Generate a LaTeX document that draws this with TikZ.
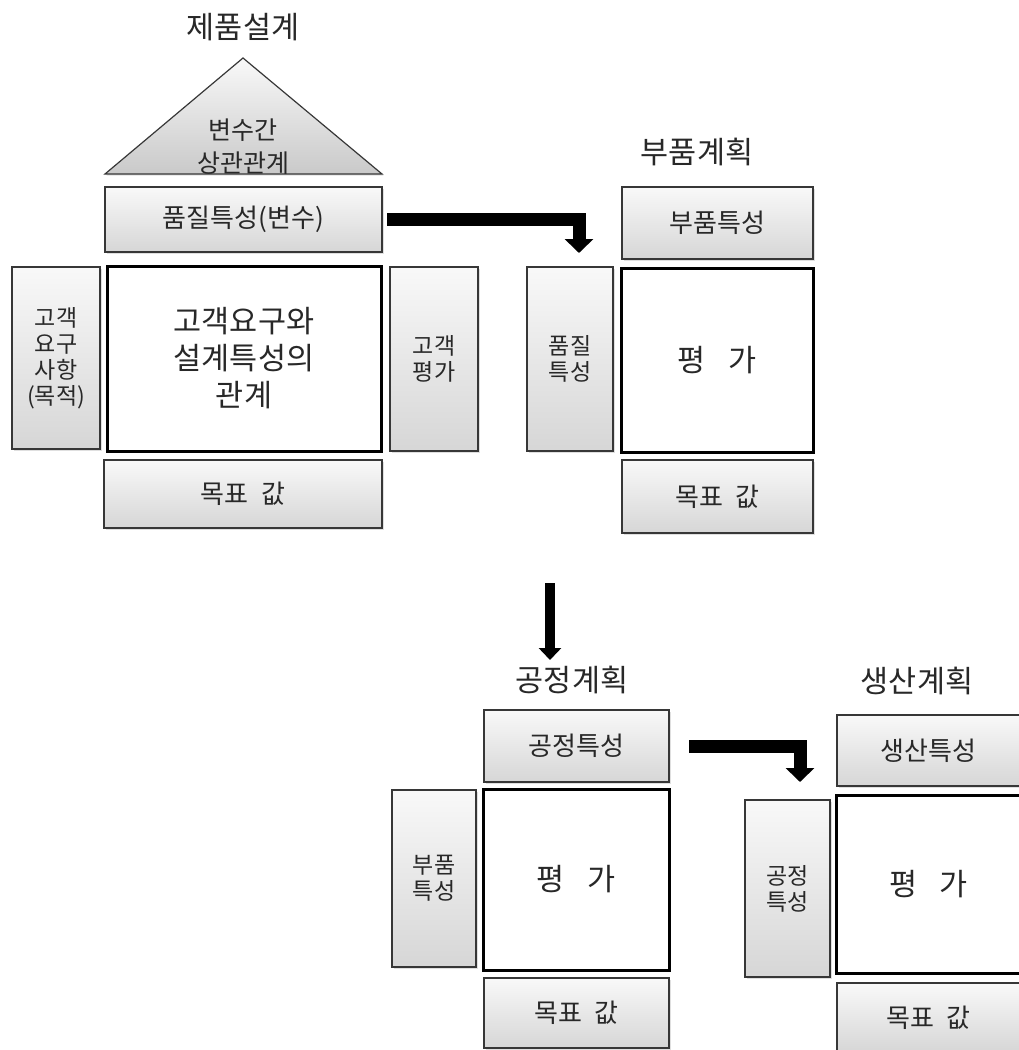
\documentclass[tikz,border=0pt]{standalone}
\usepackage{fontspec}
\setmainfont{Noto Sans CJK KR}
\usetikzlibrary{arrows.meta,shadows}
\definecolor{txt}{RGB}{40,40,40}
\definecolor{edge}{RGB}{55,55,55}
\begin{document}
\begin{tikzpicture}[x=1pt,y=-1pt,
  gbox/.style={draw=edge, line width=1.2pt, top color=gray!5, bottom color=gray!32,
    inner sep=0pt, outer sep=0pt, text=txt, align=center,
    font=\fontsize{26}{30}\selectfont,
    drop shadow={shadow xshift=1.5pt, shadow yshift=-1.5pt, opacity=0.25, fill=gray}},
  sidebox/.style={gbox, font=\fontsize{23}{26}\selectfont},
  mbox/.style={draw=black, line width=3pt, fill=white, inner sep=0pt, outer sep=0pt,
    text=txt, align=center, font=\fontsize{30.5}{37}\selectfont},
  ttl/.style={inner sep=0pt, text=txt, font=\fontsize{30.5}{36}\selectfont},
  bigarrow/.style={draw=black, line width=13pt, line join=miter,
    -{Triangle[width=28pt,length=14pt]}},
  vertarrow/.style={draw=black, line width=10pt,
    -{Triangle[width=22pt,length=12pt]}}
]
\useasboundingbox (0,0) rectangle (1018,1050);
\fill[white] (0,0) rectangle (1018,1050);

% ---------- 제품설계 ----------
\node[ttl] (t1) at (243,27) {제품설계};
\path[draw=edge, line width=1.2pt, top color=gray!5, bottom color=gray!42,
  drop shadow={shadow xshift=1.5pt, shadow yshift=-1.5pt, opacity=0.25, fill=gray}]
  (105,174) -- (243,58) -- (382,174) -- cycle;
\node[inner sep=0pt, text=txt, align=center, font=\fontsize{25}{33}\selectfont]
  (tri) at (243,147) {변수간\\상관관계};
\node[gbox, minimum width=277, minimum height=65] (q1) at (243.5,219.5) {품질특성(변수)};
\node[sidebox, minimum width=88, minimum height=182] (c1) at (56,358) {고객\\요구\\사항\\(목적)};
\node[mbox, minimum width=274, minimum height=185] (m1) at (244,358.5) {고객요구와\\설계특성의\\관계};
\node[sidebox, minimum width=88, minimum height=184] (e1) at (434,359) {고객\\평가};
\node[gbox, minimum width=278, minimum height=68] (g1) at (243,494) {목표\hspace{0.5em}값};

% ---------- 부품계획 ----------
\node[ttl] (t2) at (697,152) {부품계획};
\node[gbox, minimum width=191, minimum height=72] (q2) at (717.5,223) {부품특성};
\node[sidebox, minimum width=86, minimum height=184] (s2) at (570,359) {품질\\특성};
\node[mbox, minimum width=192, minimum height=184] (m2) at (717,360) {평\hspace{0.75em}가};
\node[gbox, minimum width=191, minimum height=73] (g2) at (717.5,496.5) {목표\hspace{0.5em}값};

% ---------- 공정계획 ----------
\node[ttl] (t3) at (572,680) {공정계획};
\node[gbox, minimum width=185, minimum height=72] (q3) at (576.5,746) {공정특성};
\node[sidebox, minimum width=84, minimum height=177] (s3) at (434,878.5) {부품\\특성};
\node[mbox, minimum width=186, minimum height=181] (m3) at (576,879.5) {평\hspace{0.75em}가};
\node[gbox, minimum width=185, minimum height=70] (g3) at (576.5,1013) {목표\hspace{0.5em}값};

% ---------- 생산계획 ----------
\node[ttl] (t4) at (917,681) {생산계획};
\node[gbox, minimum width=183, minimum height=71] (q4) at (928.5,750.5) {생산특성};
\node[sidebox, minimum width=85, minimum height=177] (s4) at (787.5,888.5) {공정\\특성};
\node[mbox, minimum width=185, minimum height=178] (m4) at (928.5,884) {평\hspace{0.75em}가};
\node[gbox, minimum width=183, minimum height=69] (g4) at (928.5,1017.5) {목표\hspace{0.5em}값};

% ---------- arrows ----------
\draw[bigarrow] ([xshift=5pt]q1.east) -| ([xshift=9pt,yshift=14pt]s2.north);
\coordinate (a2s) at (550,583);
\coordinate (a2e) at (550,660);
\draw[vertarrow] (a2s) -- (a2e);
\draw[bigarrow] ([xshift=20pt]q3.east) -| ([xshift=12.5pt,yshift=18pt]s4.north);
\end{tikzpicture}
\end{document}
